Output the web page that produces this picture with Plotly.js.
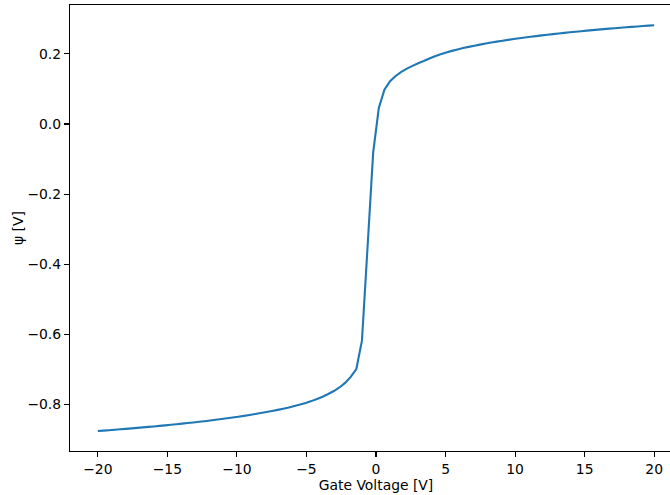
<!DOCTYPE html>
<html>
<head>
<meta charset="utf-8">
<script src="https://cdn.plot.ly/plotly-3.0.1.min.js"></script>
<style>
html,body{margin:0;padding:0;overflow:hidden;background:#fff;}
#chart{width:682px;height:495px;}
</style>
</head>
<body>
<div id="chart"></div>
<script>
// Gate voltage samples [V]
var gateVoltage = [
 -20.000,-19.596,-19.192,-18.788,-18.384,-17.980,-17.576,-17.172,-16.768,-16.364,
 -15.960,-15.556,-15.152,-14.747,-14.343,-13.939,-13.535,-13.131,-12.727,-12.323,
 -11.919,-11.515,-11.111,-10.707,-10.303,-9.899,-9.495,-9.091,-8.687,-8.283,
 -7.879,-7.475,-7.071,-6.667,-6.263,-5.859,-5.455,-5.051,-4.646,-4.242,
 -3.838,-3.434,-3.030,-2.626,-2.222,-1.818,-1.414,-1.010,-0.606,-0.202,
 0.202,0.606,1.010,1.414,1.818,2.222,2.626,3.030,3.434,3.838,
 4.242,4.646,5.051,5.455,5.859,6.263,6.667,7.071,7.475,7.879,
 8.283,8.687,9.091,9.495,9.899,10.303,10.707,11.111,11.515,11.919,
 12.323,12.727,13.131,13.535,13.939,14.343,14.747,15.152,15.556,15.960,
 16.364,16.768,17.172,17.576,17.980,18.384,18.788,19.192,19.596,20.000
];
// Surface potential psi [V]
var psi = [
 -0.8758,-0.8746,-0.8734,-0.8721,-0.8709,-0.8696,-0.8683,-0.8669,-0.8655,-0.8641,
 -0.8627,-0.8612,-0.8597,-0.8581,-0.8565,-0.8548,-0.8531,-0.8514,-0.8495,-0.8477,
 -0.8457,-0.8437,-0.8417,-0.8395,-0.8373,-0.8350,-0.8325,-0.8300,-0.8274,-0.8246,
 -0.8217,-0.8187,-0.8154,-0.8120,-0.8084,-0.8045,-0.8004,-0.7959,-0.7905,-0.7845,
 -0.7778,-0.7703,-0.7617,-0.7515,-0.7385,-0.7215,-0.6990,-0.6180,-0.3500,-0.0810,
 0.0460,0.0980,0.1220,0.1370,0.1490,0.1580,0.1660,0.1735,0.1800,0.1870,
 0.1935,0.1990,0.2040,0.2087,0.2129,0.2167,0.2202,0.2235,0.2266,0.2296,
 0.2324,0.2351,0.2377,0.2401,0.2424,0.2447,0.2468,0.2489,0.2509,0.2529,
 0.2547,0.2566,0.2583,0.2600,0.2617,0.2633,0.2648,0.2664,0.2678,0.2693,
 0.2707,0.2721,0.2734,0.2747,0.2760,0.2772,0.2784,0.2796,0.2808,0.2820
];
var xTitle = "Gate Voltage [V]";
var yTitle = "\u03c8 [V]";

var font = {family: "DejaVu Sans", size: 13.9, color: "#000"};
var axisCommon = {
  showgrid: false, zeroline: false, showline: true, mirror: true,
  linecolor: "#000", linewidth: 1.1,
  ticks: "outside", ticklen: 5, tickwidth: 1.1, tickcolor: "#000",
  tickfont: font
};
var trace = {
  x: gateVoltage, y: psi, type: "scatter", mode: "lines",
  line: {color: "#1f77b4", width: 2.1, simplify: false}, hoverinfo: "skip"
};
var layout = {
  width: 682, height: 495,
  margin: {l: 70, r: 0, t: 5, b: 44},
  paper_bgcolor: "#fff", plot_bgcolor: "#fff",
  showlegend: false, font: font,
  xaxis: Object.assign({}, axisCommon, {
    range: [-22, 22], tickmode: "linear", tick0: 0, dtick: 5,
    title: {text: xTitle, font: font, standoff: 1}
  }),
  yaxis: Object.assign({}, axisCommon, {
    range: [-0.9328, 0.3396], tickmode: "linear", tick0: 0, dtick: 0.2, tickformat: ".1f",
    title: {text: yTitle, font: font, standoff: 0}
  })
};
Plotly.newPlot("chart", [trace], layout, {staticPlot: true, displayModeBar: false});
</script>
</body>
</html>
